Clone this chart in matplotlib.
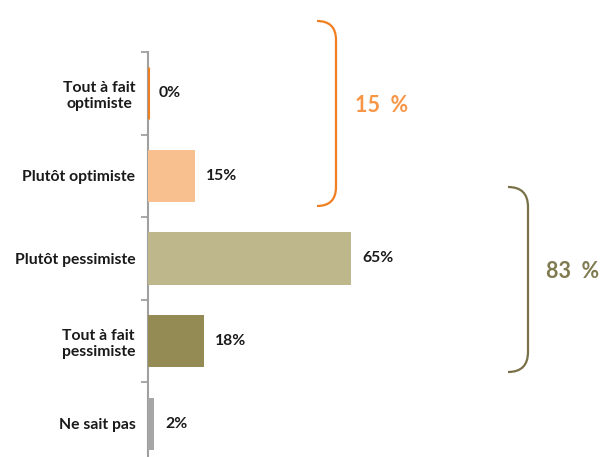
import matplotlib
matplotlib.use("Agg")
import matplotlib.pyplot as plt
from matplotlib.path import Path
from matplotlib.patches import PathPatch

# ── Data ────────────────────────────────────────────────────────────────
categories = ["Tout à fait\noptimiste", "Plutôt optimiste", "Plutôt pessimiste",
              "Tout à fait\npessimiste", "Ne sait pas"]
values = [0, 15, 65, 18, 2]
value_labels = ["0%", "15%", "65%", "18%", "2%"]
bar_colors = ["#F07F22", "#F9C08F", "#BEB78C", "#948A54", "#A6A6A6"]

group_labels = ["15  %", "83  %"]
group_line_colors = ["#F07F22", "#7A7048"]
group_text_colors = ["#F79646", "#7F7A50"]

plt.rcParams["font.family"] = ["Lato", "DejaVu Sans"]

W, H = 601, 457
fig = plt.figure(figsize=(W / 100, H / 100), dpi=100)

# main bar axes (bottom runs a little below the figure edge, like the source)
ax = fig.add_axes([148 / W, (H - 465) / H, 1 - 148 / W, 413 / H])
y = list(range(len(categories)))
bars = ax.barh(y, values, height=0.63, color=bar_colors, zorder=3)
# 0% bar still shows as a thin line
bars[0].set_edgecolor(bar_colors[0])
bars[0].set_linewidth(2.2)

ax.set_xlim(0, (W - 148) / 3.12)
ax.set_ylim(len(categories) - 0.5, -0.5)

for yi, v, lab in zip(y, values, value_labels):
    ax.annotate(lab, xy=(v, yi), xytext=(8, 0), textcoords="offset points",
                ha="left", va="center", fontsize=11.3, fontweight="bold",
                color="#1a1a1a")

ax.set_yticks(y)
ax.set_yticklabels(categories, fontsize=11.3, fontweight="bold", color="#1a1a1a",
                   multialignment="center")
ax.tick_params(axis="y", which="major", length=0, pad=9)
ax.set_yticks([i - 0.5 for i in range(len(categories) + 1)], minor=True)
ax.tick_params(axis="y", which="minor", length=5, width=1.3, color="#A0A0A0")
ax.set_xticks([])
for s in ["top", "right", "bottom"]:
    ax.spines[s].set_visible(False)
ax.spines["left"].set_color("#A0A0A0")
ax.spines["left"].set_linewidth(1.5)

# overlay for the brackets and group totals (pixel coords)
ov = fig.add_axes([0, 0, 1, 1])
ov.set_xlim(0, W)
ov.set_ylim(H, 0)
ov.axis("off")
ov.patch.set_alpha(0)


def bracket(x0, x1, top, bot, color):
    r = x1 - x0
    verts = [(x0, top), (x1, top), (x1, top + r),
             (x1, bot - r), (x1, bot), (x0, bot)]
    codes = [Path.MOVETO, Path.CURVE3, Path.CURVE3,
             Path.LINETO, Path.CURVE3, Path.CURVE3]
    ov.add_patch(PathPatch(Path(verts, codes), fill=False, edgecolor=color, lw=1.6))


bracket(317, 336, 21, 206, group_line_colors[0])
bracket(508, 528, 187, 372, group_line_colors[1])
ov.text(382, 106, group_labels[0], ha="center", va="center", fontsize=15.5,
        fontweight="bold", color=group_text_colors[0])
ov.text(573, 271, group_labels[1], ha="center", va="center", fontsize=15.5,
        fontweight="bold", color=group_text_colors[1])

fig.savefig("out.png", dpi=100)
